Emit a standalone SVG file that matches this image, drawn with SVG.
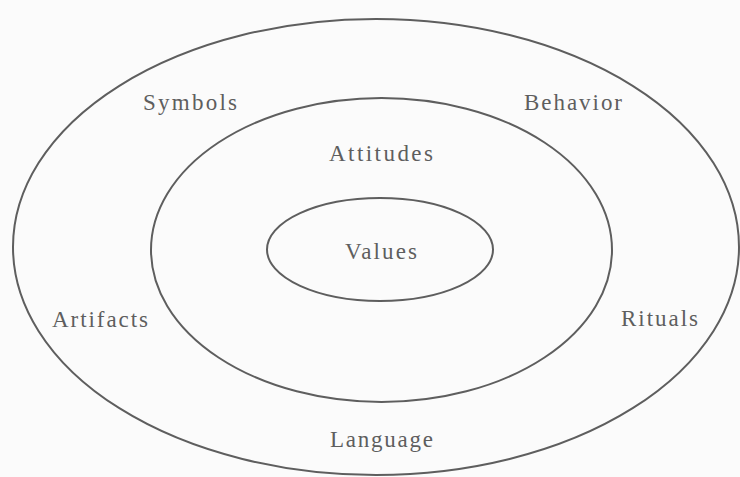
<svg xmlns="http://www.w3.org/2000/svg" width="740" height="477" viewBox="0 0 740 477">
<style>
.ring{fill:none;stroke:#5e5e5e;stroke-width:2}
.lbl{font-family:"Liberation Serif","Times New Roman",serif;font-size:23px;fill:#5e5e5e}
</style>
<rect width="740" height="477" fill="#fbfbfb"/>
<g id="outer">
<ellipse class="ring" cx="376" cy="247" rx="363" ry="228"/>
<text class="lbl" x="143" y="110" textLength="94" lengthAdjust="spacing">Symbols</text>
<text class="lbl" x="524" y="110" textLength="98" lengthAdjust="spacing">Behavior</text>
<text class="lbl" x="52" y="327" textLength="96" lengthAdjust="spacing">Artifacts</text>
<text class="lbl" x="621" y="326" textLength="77" lengthAdjust="spacing">Rituals</text>
<text class="lbl" x="330" y="447" textLength="103" lengthAdjust="spacing">Language</text>
</g>
<g id="middle">
<ellipse class="ring" cx="381.5" cy="250" rx="230.5" ry="152"/>
<text class="lbl" x="329" y="161" textLength="104" lengthAdjust="spacing">Attitudes</text>
</g>
<g id="inner">
<ellipse class="ring" cx="380" cy="249.5" rx="113" ry="51.5"/>
<text class="lbl" x="345" y="259" textLength="72" lengthAdjust="spacing">Values</text>
</g>
<g id="connectors"/>
</svg>
